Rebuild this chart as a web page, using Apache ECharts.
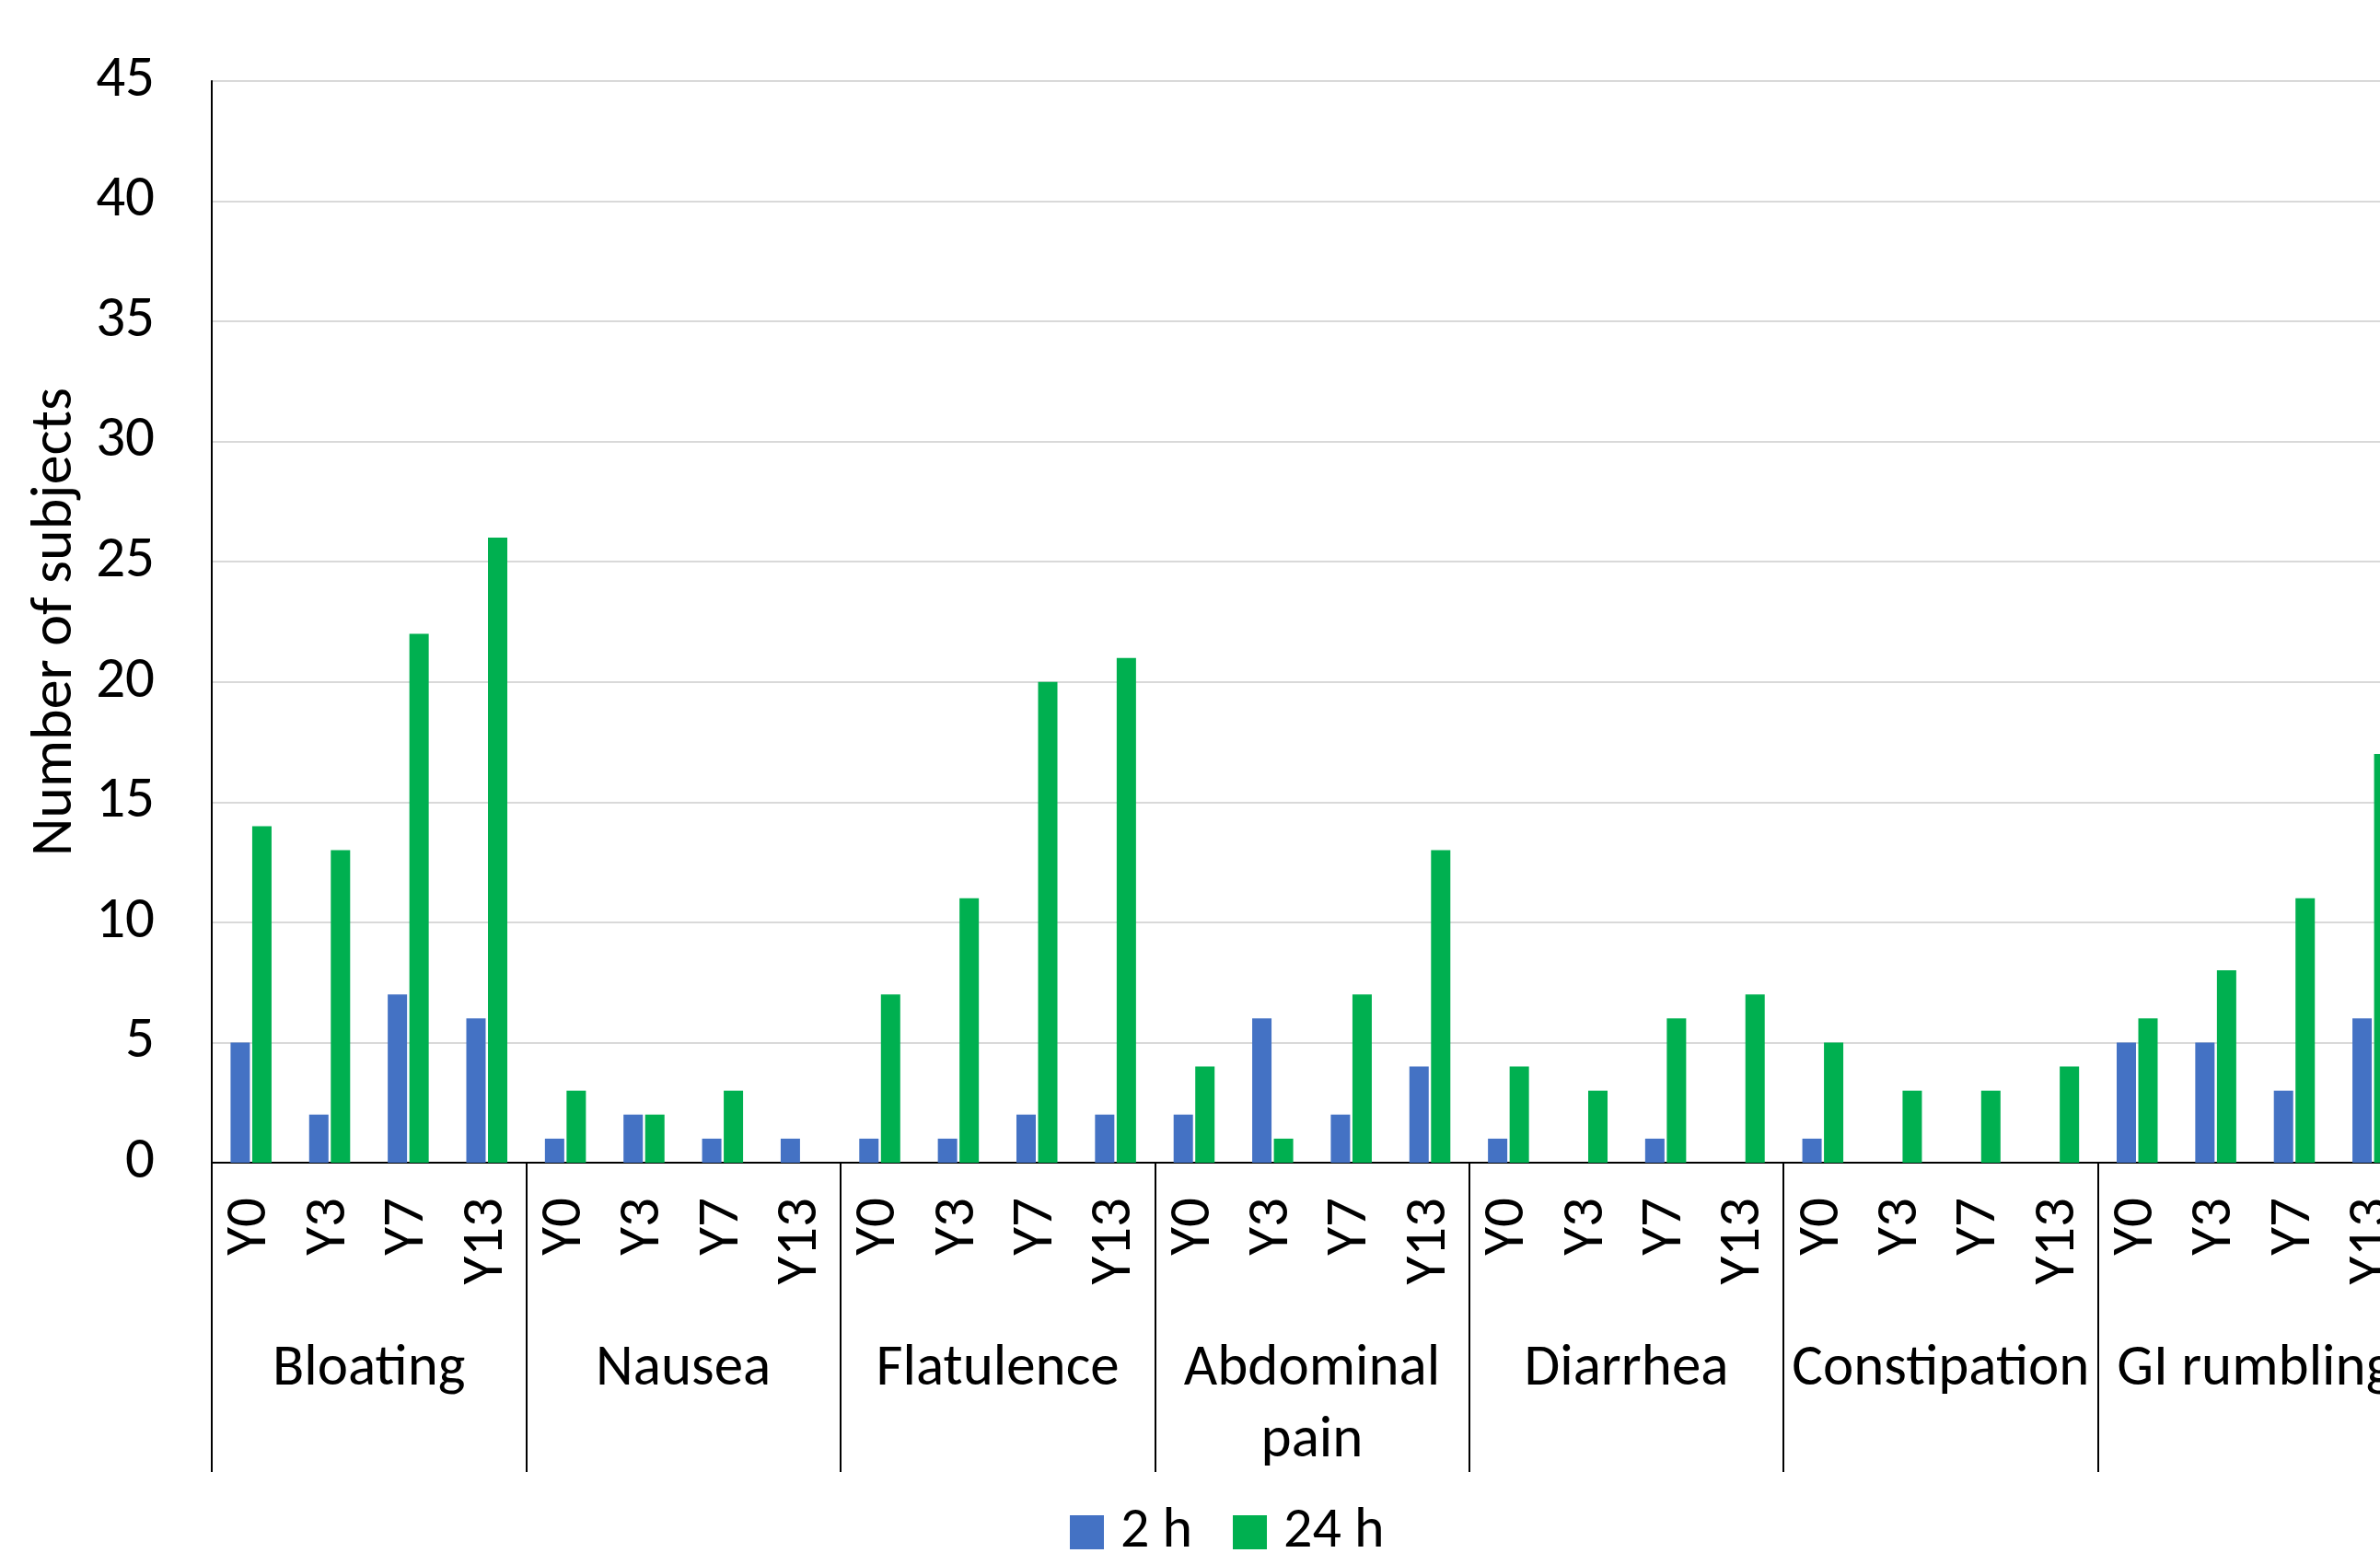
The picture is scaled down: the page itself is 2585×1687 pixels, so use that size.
<!DOCTYPE html>
<html>
<head>
<meta charset="utf-8">
<script src="https://cdn.jsdelivr.net/npm/echarts@6/dist/echarts.min.js"></script>
<style>
  html, body { margin: 0; padding: 0; background: #ffffff; }
  #chart { width: 2585px; height: 1687px; }
</style>
</head>
<body>
<div id="chart"></div>
<script>
// Symptom groups and the survey time points within each group
const symptoms = ['Bloating', 'Nausea', 'Flatulence', 'Abdominal\npain', 'Diarrhea', 'Constipation', 'GI rumbling'];
const timePoints = ['Y0', 'Y3', 'Y7', 'Y13'];

// Number of subjects reporting each symptom, per group (Y0, Y3, Y7, Y13)
const bloating2h = [5, 2, 7, 6];
const bloating24h = [14, 13, 22, 26];
const nausea2h = [1, 2, 1, 1];
const nausea24h = [3, 2, 3, 0];
const flatulence2h = [1, 1, 2, 2];
const flatulence24h = [7, 11, 20, 21];
const abdominal2h = [2, 6, 2, 4];
const abdominal24h = [4, 1, 7, 13];
const diarrhea2h = [1, 0, 1, 0];
const diarrhea24h = [4, 3, 6, 7];
const constipation2h = [1, 0, 0, 0];
const constipation24h = [5, 3, 3, 4];
const rumbling2h = [5, 5, 3, 6];
const rumbling24h = [6, 8, 11, 17];

const seriesNames = ['2 h', '24 h'];
const yTicks = { min: 0, max: 45, interval: 5 };

const values2h = [].concat(bloating2h, nausea2h, flatulence2h, abdominal2h, diarrhea2h, constipation2h, rumbling2h);
const values24h = [].concat(bloating24h, nausea24h, flatulence24h, abdominal24h, diarrhea24h, constipation24h, rumbling24h);

// Inner axis: one category per (symptom, time point)
const innerCategories = [];
symptoms.forEach(function (s) {
  timePoints.forEach(function (t) { innerCategories.push(t); });
});

const FONT = 'Carlito, Calibri, Lato, sans-serif';
const chart = echarts.init(document.getElementById('chart'), null, { renderer: 'canvas' });

chart.setOption({
  animation: false,
  backgroundColor: '#ffffff',
  textStyle: { fontFamily: FONT, color: '#000000' },
  legend: {
    data: seriesNames,
    left: 1157,
    top: 1628,
    itemWidth: 37,
    itemHeight: 37,
    itemGap: 44,
    icon: 'rect',
    textStyle: { fontFamily: FONT, fontSize: 62, lineHeight: 63, color: '#000000', padding: [0, 0, 0, 13] }
  },
  // The plot runs past the right edge of the page, so the last group is cut off
  grid: { left: 230, top: 88, width: 2390, height: 1175, outerBoundsMode: 'none', containLabel: false },
  xAxis: [
    {
      type: 'category',
      data: innerCategories,
      position: 'bottom',
      axisLine: { show: true, lineStyle: { color: '#000000', width: 2 } },
      axisTick: { show: false },
      axisLabel: {
        interval: 0,
        rotate: 90,
        margin: 38,
        fontFamily: FONT,
        fontSize: 63,
        color: '#000000'
      },
      splitLine: { show: false }
    },
    {
      type: 'category',
      data: symptoms,
      position: 'bottom',
      offset: 0,
      axisLine: { show: false },
      axisTick: {
        show: true,
        interval: 0,
        length: 336,
        lineStyle: { color: '#000000', width: 2 }
      },
      axisLabel: {
        interval: 0,
        margin: 186,
        fontFamily: FONT,
        fontSize: 63,
        lineHeight: 78,
        color: '#000000',
        verticalAlign: 'top'
      },
      splitLine: { show: false }
    }
  ],
  yAxis: {
    type: 'value',
    min: yTicks.min,
    max: yTicks.max,
    interval: yTicks.interval,
    name: 'Number of subjects',
    nameLocation: 'middle',
    nameGap: 130,
    nameRotate: 90,
    nameTextStyle: { fontFamily: FONT, fontSize: 64, color: '#000000' },
    axisLine: { show: true, lineStyle: { color: '#000000', width: 2 } },
    axisTick: { show: false },
    axisLabel: { margin: 62, fontFamily: FONT, fontSize: 63, color: '#000000' },
    splitLine: { show: true, lineStyle: { color: '#d9d9d9', width: 2 } }
  },
  series: [
    {
      name: seriesNames[0],
      type: 'bar',
      xAxisIndex: 0,
      data: values2h,
      barWidth: 21,
      barGap: '12%',
      itemStyle: { color: '#4472C4' }
    },
    {
      name: seriesNames[1],
      type: 'bar',
      xAxisIndex: 0,
      data: values24h,
      barWidth: 21,
      barGap: '12%',
      itemStyle: { color: '#00B050' }
    }
  ]
});
</script>
</body>
</html>
